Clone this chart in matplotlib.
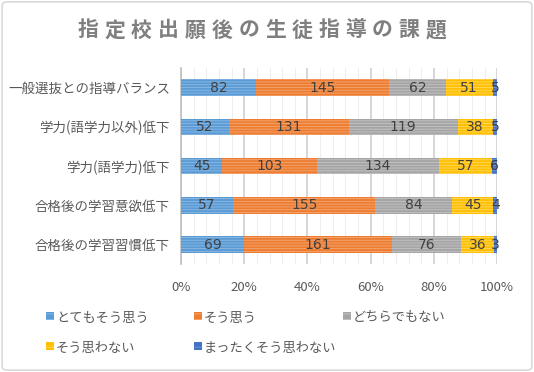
import matplotlib.pyplot as plt
import numpy as np
from matplotlib.patches import FancyBboxPatch, Rectangle

plt.rcParams['font.family'] = ['Noto Sans CJK JP', 'DejaVu Sans']
plt.rcParams['hatch.linewidth'] = 0.6

title = "指定校出願後の生徒指導の課題"
categories = ["一般選抜との指導バランス", "学力(語学力以外)低下", "学力(語学力)低下",
              "合格後の学習意欲低下", "合格後の学習習慣低下"]
series_names = ["とてもそう思う", "そう思う", "どちらでもない", "そう思わない", "まったくそう思わない"]
very_agree = [82, 52, 45, 57, 69]
agree = [145, 131, 103, 155, 161]
neutral = [62, 119, 134, 84, 76]
disagree = [51, 38, 57, 45, 36]
strongly_disagree = [5, 5, 6, 4, 3]

colors = ["#5B9BD5", "#ED7D31", "#A5A5A5", "#FFC000", "#4472C4"]
stripe = ["#8DBAE3", "#F4A774", "#C4C4C4", "#FFD865", "#7595D6"]

data = np.array([very_agree, agree, neutral, disagree, strongly_disagree], dtype=float)
totals = data.sum(axis=0)
pct = data / totals * 100

W, H = 534, 372
fig = plt.figure(figsize=(W / 100, H / 100), dpi=100)
fig.patches.append(FancyBboxPatch((0.004, 0.005), 0.992, 0.99, boxstyle="round,pad=0,rounding_size=0.01",
                                  transform=fig.transFigure, facecolor="none",
                                  edgecolor="#D9D9D9", linewidth=1.2))
ax = fig.add_axes([0.339, 0.29, 0.592, 0.527])

y = np.arange(len(categories))
left = np.zeros(len(categories))
for i in range(len(series_names)):
    bars = ax.barh(y, pct[i], left=left, height=0.42, color=colors[i], edgecolor=stripe[i],
                   linewidth=0, hatch="------", label=series_names[i], zorder=3)
    for j, b in enumerate(bars):
        cx = left[j] + pct[i][j] / 2
        ax.text(cx, y[j], f"{int(data[i][j])}", ha="center", va="center",
                fontsize=10, color="#404040", zorder=4, family=['DejaVu Sans'])
    left += pct[i]

ax.set_xlim(0, 100)
ax.set_ylim(len(categories) - 0.5, -0.5)
ax.set_yticks(y)
ax.set_yticklabels(categories, fontsize=9.7, color="#595959")
ax.set_xticks(np.arange(0, 101, 20))
ax.set_xticklabels([f"{v}%" for v in range(0, 101, 20)], fontsize=9.5, color="#595959")
ax.set_xticks(np.arange(0, 101, 4), minor=True)
ax.grid(axis="x", which="major", color="#D0D0D0", linewidth=1.2, zorder=0)
ax.grid(axis="x", which="minor", color="#EEEEEE", linewidth=0.8, zorder=0)
ax.tick_params(axis="both", which="both", length=0)
ax.tick_params(axis="x", pad=12)
ax.tick_params(axis="y", pad=8)
for s in ["top", "right", "bottom"]:
    ax.spines[s].set_visible(False)
ax.spines["left"].set_color("#BFBFBF")
ax.spines["left"].set_linewidth(1.2)

# title with letter spacing
x0, x1 = 88 / W, 436 / W
step = (x1 - x0) / (len(title) - 1)
for k, ch in enumerate(title):
    fig.text(x0 + step * k, 1 - 30 / H, ch, ha="center", va="center",
             fontsize=15, fontweight="bold", color="#7F7F7F")

# legend in fixed-width columns, filled row by row
col_x = [46, 194, 343]
row_y = [318, 348]
for k, name in enumerate(series_names):
    px = col_x[k % 3]
    py = row_y[k // 3]
    fig.patches.append(Rectangle((px / W, (H - py - 2) / H), 8 / W, 8 / H,
                                 transform=fig.transFigure, facecolor=colors[k],
                                 edgecolor=stripe[k], linewidth=0, hatch="---"))
    fig.text((px + 10) / W, (H - py) / H, name, ha="left", va="center",
             fontsize=9.5, color="#595959")

fig.savefig("out.png", dpi=100)
